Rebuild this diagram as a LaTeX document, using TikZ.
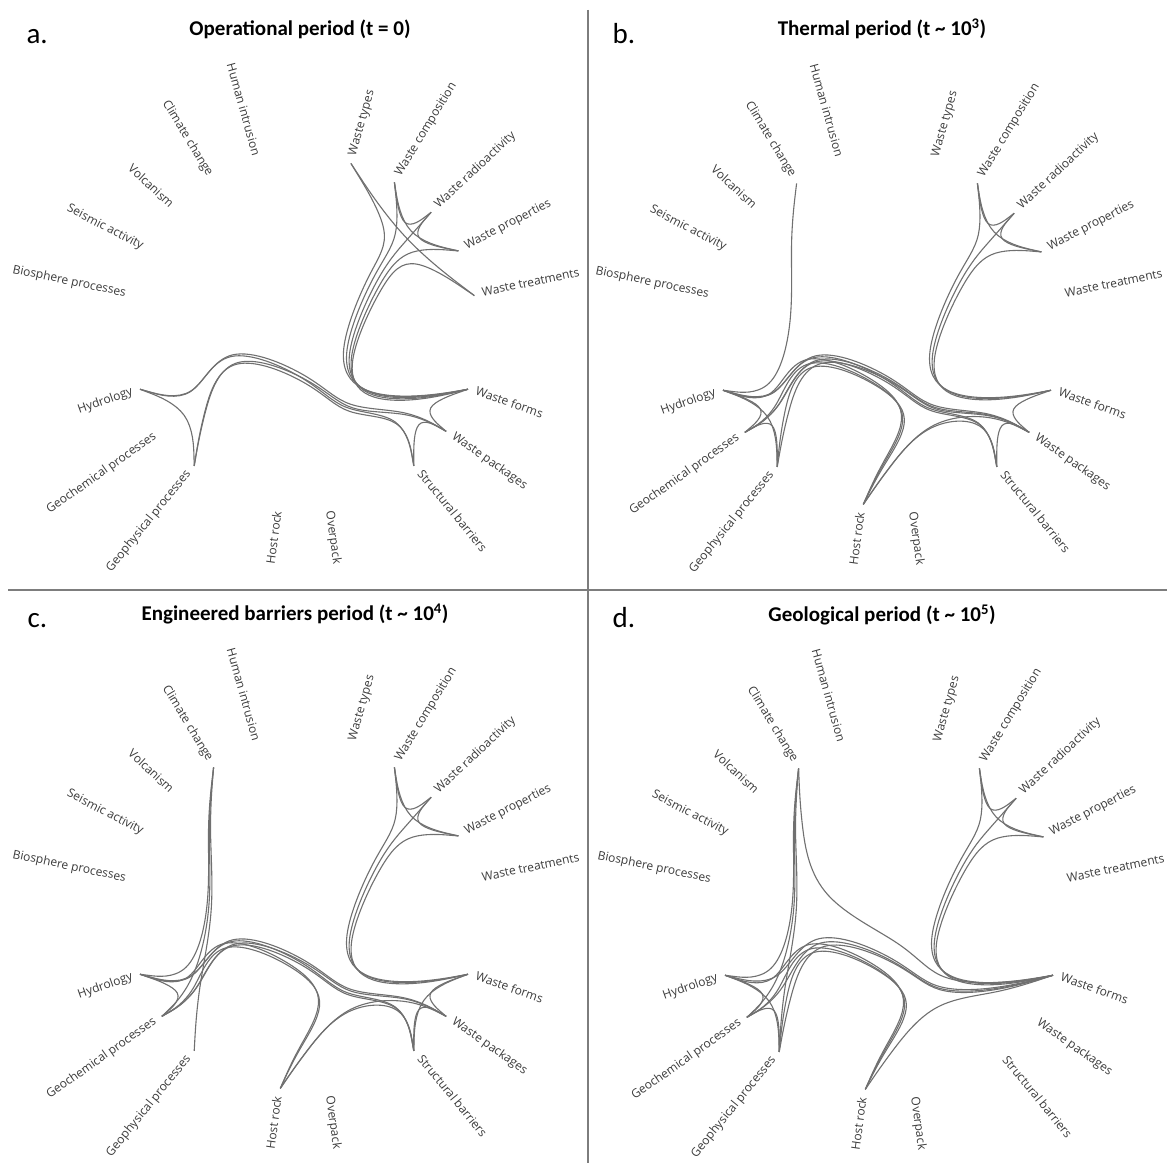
\documentclass[tikz,border=0pt]{standalone}
\usepackage{fontspec}
\setmainfont{Open Sans}
\newfontfamily\headfont{Carlito}
\usetikzlibrary{calc}
\definecolor{bundlegray}{RGB}{112,112,112}
\definecolor{labelgray}{RGB}{60,60,60}
\definecolor{rulegray}{RGB}{125,125,125}

\tikzset{
  leaflabel/.style={font=\fontsize{12}{14}\selectfont, text=labelgray, inner sep=0pt},
  bundleline/.style={draw=bundlegray, line width=1.1pt},
  paneltitle/.style={font=\headfont\bfseries\fontsize{21}{24}\selectfont, anchor=base},
  panelletter/.style={font=\headfont\fontsize{29}{32}\selectfont, anchor=base west},
  divider/.style={draw=rulegray, line width=2.2pt}
}

\def\ringr{174}
% parent of each leaf group
\def\upW{W}\def\upF{B}\def\upO{B}\def\upG{N}\def\upX{N}

% bundled B-spline through a list of coordinates
\newcommand\edgebundle[1]{%
  \foreach \p [count=\i from 0] in {#1} {\coordinate (b\i) at (\p); \xdef\bn{\i}}
  \pgfmathtruncatemacro\bm{\bn-1}
  \pgfmathtruncatemacro\bmm{\bn-2}
  \coordinate (s0) at (b0);
  \coordinate (s\bn) at (b\bn);
  \foreach \i in {1,...,\bm} {
    \coordinate (l\i) at ($(b0)!{\i/\bn}!(b\bn)$);
    \coordinate (s\i) at ($(b\i)!0.15!(l\i)$);
  }
  \draw[bundleline] (s0) -- ($(s0)!1/6!(s1)$)
    \foreach \k [evaluate=\k as \ka using int(\k+1), evaluate=\k as \kb using int(\k+2)] in {0,...,\bmm} {
      .. controls ($(s\k)!1/3!(s\ka)$) and ($(s\k)!2/3!(s\ka)$) .. ($0.16667*(s\k)+0.66667*(s\ka)+0.16667*(s\kb)$)
    }
    .. controls ($(s\bm)!1/3!(s\bn)$) and ($(s\bm)!2/3!(s\bn)$) .. ($(s\bm)!5/6!(s\bn)$) -- (s\bn);
}

% link two leaves of one panel through the hierarchy
\newcommand\link[3]{%
  \edef\ga{\csname grp#2\endcsname}\edef\gb{\csname grp#3\endcsname}%
  \edef\na{\csname up\ga\endcsname}\edef\nb{\csname up\gb\endcsname}%
  \ifx\ga\gb
    \edef\plist{#1-#2,#1-g\ga,#1-#3}%
  \else\ifx\na\nb
    \edef\plist{#1-#2,#1-g\ga,#1-n\na,#1-g\gb,#1-#3}%
  \else
    \edef\plist{#1-#2,#1-g\ga,#1-n\na,#1-rep,#1-n\nb,#1-g\gb,#1-#3}%
  \fi\fi
  \expandafter\edgebundle\expandafter{\plist}%
}

% leaves, labels and inner nodes of one panel
\newcommand\ring[2]{%
  \begin{scope}[shift={#2}]
    \foreach \k/\lf/\grp/\txt in {1/typ/W/Waste types, 2/cmp/W/Waste composition,
        3/rad/W/Waste radioactivity, 4/prp/W/Waste properties, 5/trt/W/Waste treatments,
        7/frm/F/Waste forms, 8/pkg/F/Waste packages, 9/str/F/Structural barriers,
        11/ovp/O/Overpack, 12/hst/O/Host rock,
        14/gph/G/Geophysical processes, 15/gch/G/Geochemical processes, 16/hyd/G/Hydrology,
        18/bio/X/Biosphere processes, 19/sei/X/Seismic activity, 20/vol/X/Volcanism,
        21/cli/X/Climate change, 22/hum/X/Human intrusion} {
      \expandafter\xdef\csname grp\lf\endcsname{\grp}
      \pgfmathsetmacro\ang{90-\k*360/23}
      \coordinate (#1-\lf) at (\ang:\ringr);
      \ifnum\k<12
        \node[leaflabel, anchor=mid west, rotate=\ang] (#1-\lf-lab) at (\ang:\ringr+8) {\txt};
      \else
        \node[leaflabel, anchor=mid east, rotate=\ang+180] (#1-\lf-lab) at (\ang:\ringr+8) {\txt};
      \fi
    }
    \foreach \g/\s in {W/3, F/8, O/11.5, G/15, X/20}
      \coordinate (#1-g\g) at (90-\s*360/23:0.75*\ringr);
    \foreach \n/\s in {W/3, B/9.75, N/17.5}
      \coordinate (#1-n\n) at (90-\s*360/23:0.5*\ringr);
    \coordinate (#1-rep) at (90-10.0833*360/23:0.25*\ringr);
  \end{scope}}

\begin{document}
\begin{tikzpicture}[x=1pt, y=1pt]
    \path[use as bounding box, fill=white] (0,0) rectangle (1167,1163);

    % panel frames
    \draw[divider] (588,1153) -- (588,0);
    \draw[divider] (8,573) -- (1167,573);

    % titles
    \node[panelletter] (a-letter) at (23,1119) {a.};
    \node[panelletter] (b-letter) at (609,1119) {b.};
    \node[panelletter] (c-letter) at (24,535) {c.};
    \node[panelletter] (d-letter) at (609,535) {d.};
    \node[paneltitle] (a-title) at (300,1127) {Operational period (t = 0)};
    \node[paneltitle] (b-title) at (882,1127) {Thermal period (t \textasciitilde{} 10\textsuperscript{3})};
    \node[paneltitle] (c-title) at (295,542) {Engineered barriers period (t \textasciitilde{} 10\textsuperscript{4})};
    \node[paneltitle] (d-title) at (882,541) {Geological period (t \textasciitilde{} 10\textsuperscript{5})};

    \ring{a}{(304,832)}
    \ring{b}{(887,831)}
    \ring{c}{(304,247)}
    \ring{d}{(889,246)}

    % a. operational period
    \foreach \u/\v in {typ/trt, cmp/rad, cmp/prp, rad/prp, typ/frm, cmp/frm, rad/frm, prp/frm, trt/frm,
        frm/pkg, pkg/str, hyd/gph, hyd/pkg, hyd/str, gph/pkg, gph/str}
      \link{a}{\u}{\v};

    % b. thermal period
    \foreach \u/\v in {cmp/rad, cmp/prp, rad/prp, cmp/frm, rad/frm, prp/frm, cli/hyd,
        hyd/gch, hyd/gph, gch/gph, hyd/hst, gch/hst, gph/hst, hyd/pkg, gch/pkg, gph/pkg,
        hyd/str, gch/str, hst/pkg, hst/str, frm/pkg, pkg/str}
      \link{b}{\u}{\v};

    % c. engineered barriers period
    \foreach \u/\v in {cmp/rad, cmp/prp, rad/prp, cmp/frm, rad/frm, prp/frm, cli/hyd, cli/gch, cli/gph,
        hyd/gch, hyd/hst, gch/hst, hyd/pkg, gch/pkg, hyd/str, gch/str, hst/pkg, hst/str,
        frm/pkg, frm/str, pkg/str}
      \link{c}{\u}{\v};

    % d. geological period
    \foreach \u/\v in {cmp/rad, cmp/prp, rad/prp, cmp/frm, rad/frm, prp/frm, cli/hyd, cli/gch, cli/gph,
        cli/frm, hyd/gch, hyd/gph, gch/gph, hyd/hst, gch/hst, gph/hst, hyd/frm, gch/frm, gph/frm, hst/frm}
      \link{d}{\u}{\v};
\end{tikzpicture}
\end{document}
